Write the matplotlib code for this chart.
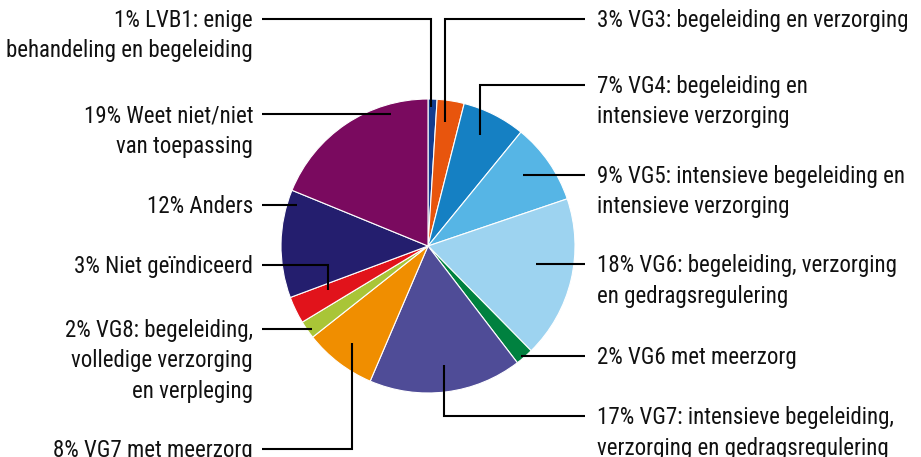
import matplotlib.pyplot as plt

# share per category (percent), clockwise from 12 o'clock
categories = ["LVB1", "VG3", "VG4", "VG5", "VG6", "VG6 met meerzorg", "VG7",
              "VG7 met meerzorg", "VG8", "Niet geïndiceerd", "Anders", "Weet niet"]
values = [1, 3, 7, 9, 18, 2, 17, 8, 2, 3, 12, 19]
labels = [
    ["1% LVB1: enige", "behandeling en begeleiding"],
    ["3% VG3: begeleiding en verzorging"],
    ["7% VG4: begeleiding en", "intensieve verzorging"],
    ["9% VG5: intensieve begeleiding en", "intensieve verzorging"],
    ["18% VG6: begeleiding, verzorging", "en gedragsregulering"],
    ["2% VG6 met meerzorg"],
    ["17% VG7: intensieve begeleiding,", "verzorging en gedragsregulering"],
    ["8% VG7 met meerzorg"],
    ["2% VG8: begeleiding,", "volledige verzorging", "en verpleging"],
    ["3% Niet geïndiceerd"],
    ["12% Anders"],
    ["19% Weet niet/niet", "van toepassing"],
]
colors = ["#123c8f", "#e8550d", "#1580c3", "#56b5e5", "#9dd3f0", "#00813f",
          "#4f4c97", "#f08e00", "#a9c537", "#e1131b", "#241e6e", "#7a0a5f"]

# layout (pixels, y downwards): side, y of first text line, leader anchor in slice
sides = ["L", "R", "R", "R", "R", "R", "R", "L", "L", "L", "L", "L"]
label_y = [19, 19, 85, 175, 264, 356, 416, 449, 329, 265, 205, 114]
anchors = [(431, 107), (445, 122), (480, 135), (523, 175), (536, 264), (521, 356),
           (444, 365), (352, 343), (312, 329), (328, 290), (297, 205), (391, 114)]
line_step = 30.5

plt.rcParams['font.family'] = ['Roboto Condensed', 'Archivo Narrow', 'Liberation Sans Narrow',
                               'Roboto', 'DejaVu Sans']

fig = plt.figure(figsize=(9.21, 4.57), dpi=100)
ax = fig.add_axes([0, 0, 1, 1])
ax.pie(values, colors=colors, center=(428, 246), radius=147, startangle=-90,
       counterclock=True, wedgeprops=dict(edgecolor="white", linewidth=0.8))
ax.set_xlim(0, 921)
ax.set_ylim(457, 0)
ax.set_aspect("auto")
ax.axis("off")

for lines, side, y, (axx, axy) in zip(labels, sides, label_y, anchors):
    if side == "L":
        x_text, x_line, ha = 253, 262, "right"
    else:
        x_text, x_line, ha = 597, 585, "left"
    ax.plot([x_line, axx, axx], [y, y, axy], color="black", lw=1.5,
            solid_capstyle="butt", solid_joinstyle="miter")
    for i, line in enumerate(lines):
        ax.text(x_text, y + 8 + i * line_step, line, ha=ha, va="baseline",
                fontsize=16.5, color="#111111")

fig.savefig("out.png", dpi=100)
